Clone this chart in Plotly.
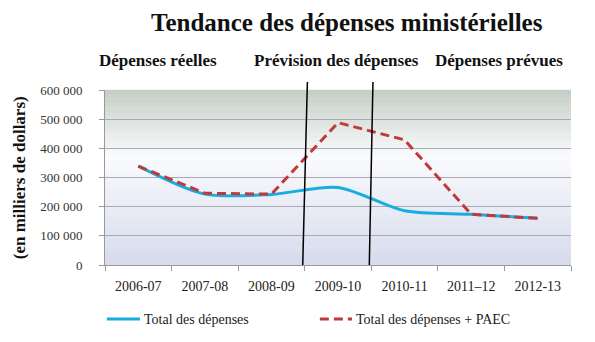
import plotly.graph_objects as go

categories = ["2006-07", "2007-08", "2008-09", "2009-10", "2010-11", "2011\u201312", "2012-13"]
total = [339000, 243000, 242000, 266000, 186000, 174000, 160000]
total_paec = [339000, 246000, 243000, 488000, 429000, 174000, 160000]
y_ticks = [0, 100000, 200000, 300000, 400000, 500000, 600000]
y_labels = ["0", "100 000", "200 000", "300 000", "400 000", "500 000", "600 000"]
section_titles = ["Dépenses réelles", "Prévision des dépenses", "Dépenses prévues"]

SERIF = "Liberation Serif, Times New Roman, serif"
xs = list(range(len(categories)))

fig = go.Figure()
fig.add_trace(go.Scatter(x=xs, y=total, mode="lines", name="Total des dépenses",
                         line=dict(color="#17ade0", width=3, shape="spline", smoothing=0.8),
                         showlegend=False, hoverinfo="skip"))
fig.add_trace(go.Scatter(x=xs, y=total_paec, mode="lines", name="Total des dépenses + PAEC",
                         line=dict(color="#c0393b", width=3, dash="9px,5px"), showlegend=False,
                         hoverinfo="skip"))

# gradient background of plot area
n = 40
def mix(c1, c2, t):
    return "rgb(%d,%d,%d)" % tuple(round(a + (b - a) * t) for a, b in zip(c1, c2))
top = (196, 206, 196)
mid = (250, 251, 253)
bot = (214, 218, 236)
shapes = []
for i in range(n):
    f0 = i / n
    f1 = (i + 1) / n
    fc = (f0 + f1) / 2
    if fc > 0.62:
        col = mix(mid, top, (fc - 0.62) / 0.38)
    else:
        col = mix(bot, mid, fc / 0.62)
    shapes.append(dict(type="rect", xref="x domain", yref="y domain", x0=0, x1=1,
                       y0=f0, y1=f1 + 0.002, fillcolor=col, line=dict(width=0), layer="below"))

# vertical separators
for xv, dx in [(2.5, 0.04), (3.5, 0.025)]:
    shapes.append(dict(type="line", xref="x", yref="paper", x0=xv - 0.03, x1=xv + dx,
                       y0=0, y1=1.046, line=dict(color="black", width=1.5)))

# legend samples
LY = -0.309
shapes.append(dict(type="line", xref="paper", yref="paper", x0=0.004, x1=0.075, y0=LY, y1=LY,
                   line=dict(color="#17ade0", width=3)))
shapes.append(dict(type="line", xref="paper", yref="paper", x0=0.461, x1=0.530, y0=LY, y1=LY,
                   line=dict(color="#c0393b", width=3, dash="9px,5px")))

annotations = [
    dict(text="<b>Tendance des dépenses ministérielles</b>", xref="paper", yref="paper",
         x=0.52, y=1.383, xanchor="center", yanchor="middle", showarrow=False,
         font=dict(family=SERIF, size=25, color="#111")),
    dict(text="<b>" + section_titles[0] + "</b>", xref="paper", yref="paper", x=0.114, y=1.171,
         xanchor="center", yanchor="middle", showarrow=False, font=dict(family=SERIF, size=17, color="#111")),
    dict(text="<b>" + section_titles[1] + "</b>", xref="paper", yref="paper", x=0.496, y=1.171,
         xanchor="center", yanchor="middle", showarrow=False, font=dict(family=SERIF, size=17, color="#111")),
    dict(text="<b>" + section_titles[2] + "</b>", xref="paper", yref="paper", x=0.846, y=1.171,
         xanchor="center", yanchor="middle", showarrow=False, font=dict(family=SERIF, size=17, color="#111")),
    dict(text="<b>(en milliers de dollars)</b>", xref="paper", yref="paper", x=-0.183, y=0.5,
         xanchor="center", yanchor="middle", textangle=-90, showarrow=False,
         font=dict(family=SERIF, size=17, color="#111")),
    dict(text="Total des dépenses", xref="paper", yref="paper", x=0.080, y=LY, xanchor="left",
         yanchor="middle", showarrow=False, font=dict(family=SERIF, size=14, color="#222")),
    dict(text="Total des dépenses + PAEC", xref="paper", yref="paper", x=0.534, y=LY, xanchor="left",
         yanchor="middle", showarrow=False, font=dict(family=SERIF, size=14, color="#222")),
]

fig.update_layout(
    width=595, height=342,
    margin=dict(l=97, r=32, t=82, b=85),
    paper_bgcolor="white", plot_bgcolor="white",
    shapes=shapes, annotations=annotations,
    showlegend=False,
    xaxis=dict(range=[-0.5, 6.5], tickmode="array", tickvals=xs, ticktext=categories,
               showgrid=False, zeroline=False, showline=True, linecolor="#999", linewidth=1,
               ticks="", automargin=False, ticklabelstandoff=8,
               tickfont=dict(family=SERIF, size=14, color="#222")),
    yaxis=dict(range=[0, 600000], tickvals=y_ticks, ticktext=y_labels, automargin=False,
               showgrid=True, gridcolor="#a9aab4", gridwidth=1, zeroline=False,
               showline=True, linecolor="#999", linewidth=1, ticks="outside", ticklen=5,
               ticklabelstandoff=14,
               tickcolor="#999", tickfont=dict(family=SERIF, size=13, color="#333")),
    xaxis2=dict(overlaying="x", range=[-0.5, 6.5], tickvals=[i - 0.5 for i in range(8)],
                ticks="outside", ticklen=5, tickcolor="#999", showticklabels=False,
                showgrid=False, zeroline=False, showline=False, side="bottom", anchor="y",
                automargin=False),
)

# x-axis tick marks at category boundaries
fig.add_trace(go.Scatter(x=[-0.5], y=[0], xaxis="x2", showlegend=False, mode="none", hoverinfo="skip"))

fig.write_html("out.html")
